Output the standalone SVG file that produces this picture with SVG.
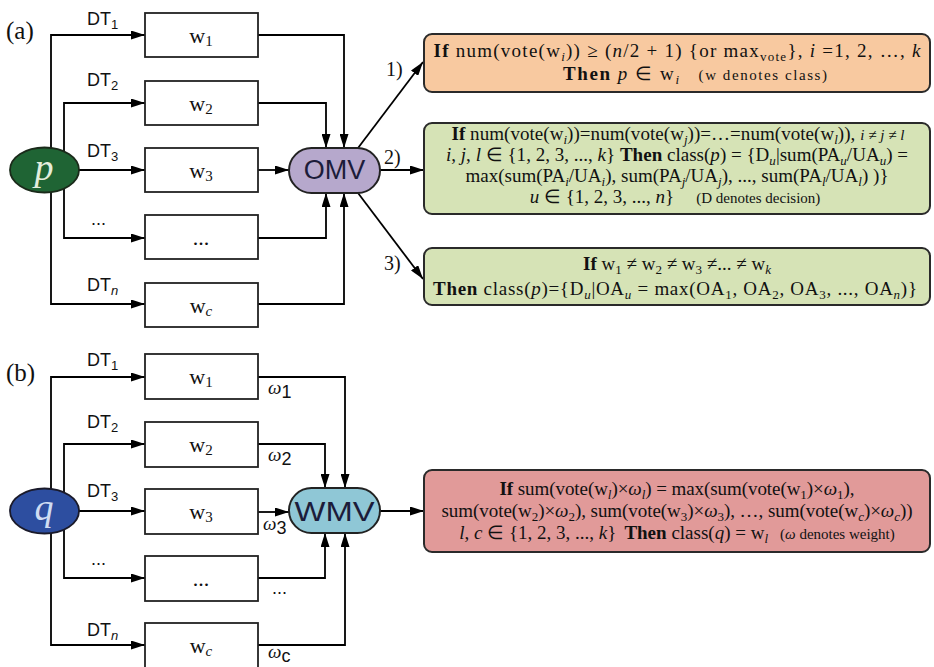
<svg xmlns="http://www.w3.org/2000/svg" width="934" height="667" viewBox="0 0 934 667">
<defs>
<marker id="ah" viewBox="0 0 14 9" refX="14" refY="4.5" markerWidth="14" markerHeight="9" markerUnits="userSpaceOnUse" orient="auto"><path d="M0,0 L14,4.5 L0,9 z" fill="#000"/></marker>
<style>
.c{fill:none;stroke:#000;stroke-width:1.8;marker-end:url(#ah)}
.bx{fill:#fff;stroke:#222;stroke-width:1.8}
.wt{font-family:"Liberation Serif",serif;font-size:22px;fill:#111;text-anchor:middle}
.dt{font-family:"Liberation Sans",Arial,sans-serif;font-size:18px;fill:#111}
.lab{font-family:"Liberation Serif",serif;font-size:25px;fill:#111}
.num{font-family:"Liberation Serif",serif;font-size:20px;fill:#111}
.om{font-family:"Liberation Sans",Arial,sans-serif;font-size:27px;fill:#1c1c3a;text-anchor:middle}
.rb{stroke:#2a2a2a;stroke-width:2}
.r{font-family:"Liberation Serif",serif;font-size:19px;fill:#111;text-anchor:middle}
.i{font-style:italic}
.b{font-weight:bold}
.s{font-size:13px}
.sm{font-size:15px}
.om2{font-family:"Liberation Serif",serif;font-style:italic;font-size:19px;fill:#111}
</style>
</defs>

<text class="lab" x="6" y="39">(a)</text>
<text class="lab" x="6" y="381">(b)</text>

<g id="connectors">
<path class="c" d="M51,170 V35 H145"/>
<path class="c" d="M64,170 V103 H145"/>
<path class="c" d="M79,170 H145"/>
<path class="c" d="M64,170 V238 H145"/>
<path class="c" d="M51,170 V304 H145"/>
<path class="c" d="M258,35 H344 V148"/>
<path class="c" d="M258,103 H326 V148"/>
<path class="c" d="M258,170 H289"/>
<path class="c" d="M258,238 H326 V193"/>
<path class="c" d="M258,304 H344 V193"/>
<path class="c" d="M358,148 L423,62"/>
<path class="c" d="M380,170 H424"/>
<path class="c" d="M358,193 L423,279"/>

<path class="c" d="M51,511 V377 H145"/>
<path class="c" d="M64,511 V444 H145"/>
<path class="c" d="M79,511 H145"/>
<path class="c" d="M64,511 V578 H145"/>
<path class="c" d="M51,511 V645 H145"/>
<path class="c" d="M258,377 H345 V488"/>
<path class="c" d="M258,444 H325 V488"/>
<path class="c" d="M258,512 H289"/>
<path class="c" d="M258,578 H325 V533"/>
<path class="c" d="M258,645 H345 V533"/>
<path class="c" d="M380,511 H424"/>
</g>

<g id="edge-labels">
<text class="dt" x="87" y="25">DT<tspan font-size="13" dy="4">1</tspan></text>
<text class="dt" x="87" y="86">DT<tspan font-size="13" dy="4">2</tspan></text>
<text class="dt" x="87" y="157">DT<tspan font-size="13" dy="4">3</tspan></text>
<text class="dt" x="91" y="225" font-size="13">...</text>
<text class="dt" x="87" y="291">DT<tspan font-size="13" dy="4" class="i">n</tspan></text>
<text class="num" x="386" y="76">1)</text>
<text class="num" x="384" y="164">2)</text>
<text class="num" x="384" y="270">3)</text>

<text class="dt" x="87" y="366">DT<tspan font-size="13" dy="4">1</tspan></text>
<text class="dt" x="87" y="428">DT<tspan font-size="13" dy="4">2</tspan></text>
<text class="dt" x="87" y="497">DT<tspan font-size="13" dy="4">3</tspan></text>
<text class="dt" x="91" y="565" font-size="13">...</text>
<text class="dt" x="87" y="636">DT<tspan font-size="13" dy="4" class="i">n</tspan></text>
<text class="om2" x="268" y="394">ω<tspan class="dt" font-style="normal" font-size="13" dy="4">1</tspan></text>
<text class="om2" x="268" y="461">ω<tspan class="dt" font-style="normal" font-size="13" dy="4">2</tspan></text>
<text class="om2" x="263" y="530">ω<tspan class="dt" font-style="normal" font-size="13" dy="4">3</tspan></text>
<text class="dt" x="272" y="594" font-size="13">...</text>
<text class="om2" x="268" y="658">ω<tspan class="dt" font-style="normal" font-size="13" dy="4">c</tspan></text>
</g>

<g id="node-p">
<ellipse cx="44.5" cy="170" rx="34.5" ry="22.5" fill="#1f6434" stroke="#1a2a1a" stroke-width="1.8"/>
<text x="44" y="180" font-family="Liberation Serif,serif" font-style="italic" font-size="38" fill="#e4eedc" text-anchor="middle">p</text>
</g>
<g id="node-a-w1"><rect class="bx" x="145" y="13" width="113" height="44"/><text class="wt" x="201" y="43">w<tspan font-size="15" dy="3">1</tspan></text></g>
<g id="node-a-w2"><rect class="bx" x="145" y="81" width="113" height="44"/><text class="wt" x="201" y="111">w<tspan font-size="15" dy="3">2</tspan></text></g>
<g id="node-a-w3"><rect class="bx" x="145" y="148" width="113" height="44"/><text class="wt" x="201" y="178">w<tspan font-size="15" dy="3">3</tspan></text></g>
<g id="node-a-wdots"><rect class="bx" x="145" y="215" width="113" height="44"/><text class="wt" x="201" y="245" font-size="14">...</text></g>
<g id="node-a-wc"><rect class="bx" x="145" y="283" width="113" height="44"/><text class="wt" x="201" y="313">w<tspan font-size="15" dy="3" class="i">c</tspan></text></g>
<g id="node-omv">
<rect x="289" y="148" width="91" height="45" rx="22.5" fill="#b6a8cc" stroke="#222" stroke-width="2"/>
<text class="om" x="334.5" y="179">OMV</text>
</g>

<g id="node-rule1">
<rect class="rb" x="424" y="34" width="506" height="58" rx="8" fill="#f8c9a0"/>
<text class="r" x="677" y="57" textLength="487" lengthAdjust="spacing"><tspan class="b">If</tspan> num(vote(w<tspan class="s i" dy="4">i</tspan><tspan dy="-4">)) ≥ (</tspan><tspan class="i">n</tspan>/2 + 1) {or max<tspan class="s" dy="4">vote</tspan><tspan dy="-4">}, </tspan><tspan class="i">i</tspan> =1, 2, …, <tspan class="i">k</tspan></text>
<text class="r" x="695" y="80" textLength="264" lengthAdjust="spacing"><tspan class="b">Then</tspan> <tspan class="i">p</tspan> ∈ w<tspan class="s i" dy="4">i</tspan><tspan dy="-4" dx="18" class="sm">(w denotes class)</tspan></text>
</g>

<g id="node-rule2">
<rect class="rb" x="424" y="123" width="506" height="91" rx="8" fill="#d6e3b6"/>
<text class="r" x="678" y="140" textLength="453" lengthAdjust="spacing"><tspan class="b">If</tspan> num(vote(w<tspan class="s i" dy="4">i</tspan><tspan dy="-4">))=num(vote(w</tspan><tspan class="s i" dy="4">j</tspan><tspan dy="-4">))=…=num(vote(w</tspan><tspan class="s i" dy="4">l</tspan><tspan dy="-4">)), </tspan><tspan class="i sm">i ≠ j ≠ l</tspan></text>
<text class="r" x="677" y="161" textLength="462" lengthAdjust="spacing"><tspan class="i">i</tspan>, <tspan class="i">j</tspan>, <tspan class="i">l</tspan> ∈ {1, 2, 3, ..., <tspan class="i">k</tspan>} <tspan class="b">Then</tspan> class(<tspan class="i">p</tspan>) = {D<tspan class="s i" dy="4">u</tspan><tspan dy="-4">|sum(PA</tspan><tspan class="s i" dy="4">u</tspan><tspan dy="-4">/UA</tspan><tspan class="s i" dy="4">u</tspan><tspan dy="-4">) =</tspan></text>
<text class="r" x="677" y="182" textLength="423" lengthAdjust="spacing">max(sum(PA<tspan class="s i" dy="4">i</tspan><tspan dy="-4">/UA</tspan><tspan class="s i" dy="4">i</tspan><tspan dy="-4">), sum(PA</tspan><tspan class="s i" dy="4">j</tspan><tspan dy="-4">/UA</tspan><tspan class="s i" dy="4">j</tspan><tspan dy="-4">), ..., sum(PA</tspan><tspan class="s i" dy="4">l</tspan><tspan dy="-4">/UA</tspan><tspan class="s i" dy="4">l</tspan><tspan dy="-4">) )}</tspan></text>
<text class="r" x="675" y="203"><tspan class="i">u</tspan> ∈ {1, 2, 3, ..., <tspan class="i">n</tspan>}<tspan dx="22" class="sm">(D denotes decision)</tspan></text>
</g>

<g id="node-rule3">
<rect class="rb" x="424" y="248" width="506" height="57" rx="8" fill="#d6e3b6"/>
<text class="r" x="677" y="270"><tspan class="b">If</tspan> w<tspan class="s" dy="4">1</tspan><tspan dy="-4"> ≠ w</tspan><tspan class="s" dy="4">2</tspan><tspan dy="-4"> ≠ w</tspan><tspan class="s" dy="4">3</tspan><tspan dy="-4"> ≠... ≠ w</tspan><tspan class="s i" dy="4">k</tspan></text>
<text class="r" x="675" y="295" textLength="484" lengthAdjust="spacing"><tspan class="b">Then</tspan> class(<tspan class="i">p</tspan>)={D<tspan class="s i" dy="4">u</tspan><tspan dy="-4">|OA</tspan><tspan class="s i" dy="4">u</tspan><tspan dy="-4"> = max(OA</tspan><tspan class="s" dy="4">1</tspan><tspan dy="-4">, OA</tspan><tspan class="s" dy="4">2</tspan><tspan dy="-4">, OA</tspan><tspan class="s" dy="4">3</tspan><tspan dy="-4">, ..., OA</tspan><tspan class="s i" dy="4">n</tspan><tspan dy="-4">)}</tspan></text>
</g>

<g id="node-q">
<ellipse cx="44.5" cy="511" rx="34.5" ry="22.5" fill="#2d4ea0" stroke="#1a1a2a" stroke-width="1.8"/>
<text x="44" y="520" font-family="Liberation Serif,serif" font-style="italic" font-size="38" fill="#cfdcf2" text-anchor="middle">q</text>
</g>
<g id="node-b-w1"><rect class="bx" x="145" y="354" width="113" height="45"/><text class="wt" x="201" y="384">w<tspan font-size="15" dy="3">1</tspan></text></g>
<g id="node-b-w2"><rect class="bx" x="145" y="422" width="113" height="45"/><text class="wt" x="201" y="452">w<tspan font-size="15" dy="3">2</tspan></text></g>
<g id="node-b-w3"><rect class="bx" x="145" y="489" width="113" height="45"/><text class="wt" x="201" y="519">w<tspan font-size="15" dy="3">3</tspan></text></g>
<g id="node-b-wdots"><rect class="bx" x="145" y="556" width="113" height="45"/><text class="wt" x="201" y="586" font-size="14">...</text></g>
<g id="node-b-wc"><rect class="bx" x="145" y="623" width="113" height="45"/><text class="wt" x="201" y="653">w<tspan font-size="15" dy="3" class="i">c</tspan></text></g>
<g id="node-wmv">
<rect x="289" y="488" width="91" height="45" rx="22.5" fill="#8fc7d6" stroke="#222" stroke-width="2"/>
<text class="om" x="334.5" y="521" font-size="29" textLength="80" lengthAdjust="spacingAndGlyphs">WMV</text>
</g>

<g id="node-rule4">
<rect class="rb" x="424" y="470" width="506" height="82" rx="8" fill="#e19a99"/>
<text class="r" x="677" y="495" textLength="355" lengthAdjust="spacing"><tspan class="b">If</tspan> sum(vote(w<tspan class="s i" dy="4">l</tspan><tspan dy="-4">)×</tspan><tspan class="i">ω</tspan><tspan class="s i" dy="4">l</tspan><tspan dy="-4">) = max(sum(vote(w</tspan><tspan class="s" dy="4">1</tspan><tspan dy="-4">)×</tspan><tspan class="i">ω</tspan><tspan class="s" dy="4">1</tspan><tspan dy="-4">),</tspan></text>
<text class="r" x="677" y="517" textLength="471" lengthAdjust="spacing">sum(vote(w<tspan class="s" dy="4">2</tspan><tspan dy="-4">)×</tspan><tspan class="i">ω</tspan><tspan class="s" dy="4">2</tspan><tspan dy="-4">), sum(vote(w</tspan><tspan class="s" dy="4">3</tspan><tspan dy="-4">)×</tspan><tspan class="i">ω</tspan><tspan class="s" dy="4">3</tspan><tspan dy="-4">), …, sum(vote(w</tspan><tspan class="s i" dy="4">c</tspan><tspan dy="-4">)×</tspan><tspan class="i">ω</tspan><tspan class="s i" dy="4">c</tspan><tspan dy="-4">))</tspan></text>
<text class="r" x="677" y="539"><tspan class="i">l</tspan>, <tspan class="i">c</tspan> ∈ {1, 2, 3, ..., <tspan class="i">k</tspan>}<tspan dx="8" class="b">Then</tspan> class(<tspan class="i">q</tspan>) = w<tspan class="s i" dy="4">l</tspan><tspan dy="-4" dx="12" class="sm">(</tspan><tspan class="i sm">ω</tspan><tspan class="sm"> denotes weight)</tspan></text>
</g>
</svg>
